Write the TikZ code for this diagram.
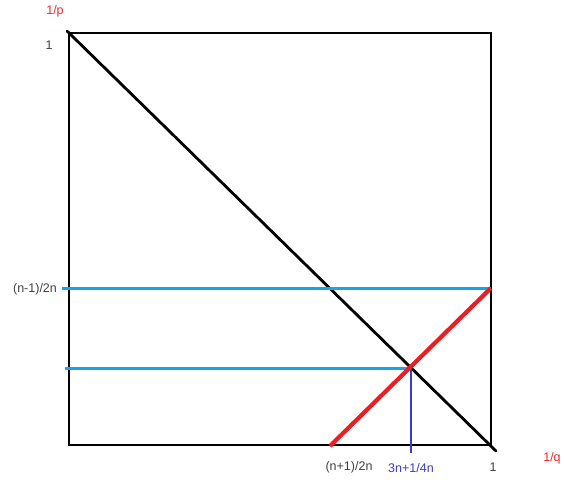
\documentclass[tikz,border=0pt]{standalone}
\usepackage{fontspec}
\setmainfont{Liberation Sans}
\begin{document}
\begin{tikzpicture}[x=1pt,y=-1pt,
  lbl/.style={font=\fontsize{12.5}{14}\selectfont, text=black!75, inner sep=0pt},
  blk/.style={line width=2.8pt, black},
  bl/.style={line width=3pt, color={rgb,255:red,20;green,165;blue,230}},
  rd/.style={line width=4.2pt, color={rgb,255:red,235;green,30;blue,35}},
  vb/.style={line width=2.6pt, color={rgb,255:red,60;green,60;blue,200}}]
\useasboundingbox (0,0) rectangle (564,482);
% box
\coordinate (tl) at (69,33);
\coordinate (tr) at (491,33);
\coordinate (br) at (491,445);
\coordinate (bl) at (69,445);
\draw[blk] (tl) -- (tr) -- (br) -- (bl) -- cycle;
% diagonal
\coordinate (d1) at (67,31);
\coordinate (d2) at (496,451);
\draw[blk, line cap=round] (d1) -- (d2);
% blue horizontals
\coordinate (h1a) at (62,288);
\coordinate (h1b) at (491,288);
\draw[bl] (h1a) -- (h1b);
\coordinate (h2a) at (65,368);
\coordinate (x) at (411,368);
\draw[bl] (h2a) -- (x);
% vertical blue
\coordinate (vb) at (411,453);
\draw[vb] (x) -- (vb);
% red line
\coordinate (r1) at (330,446);
\coordinate (r2) at (491,288);
\draw[rd] (r1) -- (r2);
% labels
\node[lbl, text={rgb,255:red,235;green,40;blue,45}] (p) at (55,11) {1/p};
\node[lbl] (one) at (49,45) {1};
\node[lbl] (nm) at (35,289) {(n-1)/2n};
\node[lbl] (np) at (349,467) {(n+1)/2n};
\node[lbl, text={rgb,255:red,60;green,60;blue,200}] (tn) at (411,468) {3n+1/4n};
\node[lbl] (one2) at (493,467) {1};
\node[lbl, text={rgb,255:red,235;green,40;blue,45}] (q) at (552,458) {1/q};
\end{tikzpicture}
\end{document}
